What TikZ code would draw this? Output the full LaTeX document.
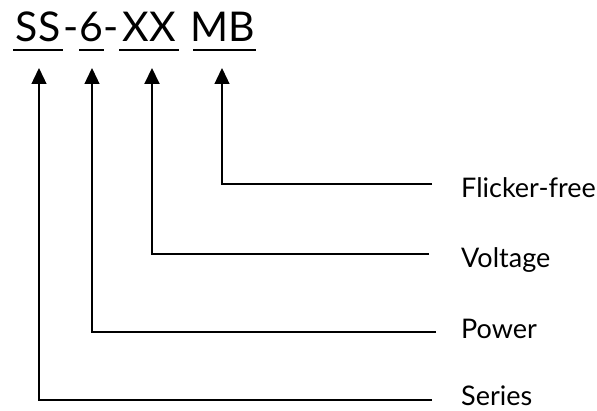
\documentclass[tikz,border=0pt]{standalone}
\usepackage{fontspec}
\setmainfont{Lato}
\usetikzlibrary{arrows.meta,calc}
\begin{document}
\begin{tikzpicture}[x=1pt,y=-1pt,
  title/.style={inner sep=0pt,anchor=base,font=\fontsize{41}{46}\selectfont},
  lbl/.style={inner sep=0pt,anchor=base west,font=\fontsize{27}{32}\selectfont},
  uline/.style={line width=1.4pt},
  conn/.style={line width=1.3pt,-{Triangle[width=15pt,length=16pt]}}]
\useasboundingbox (0,0) rectangle (597,411);
% title parts
\node[title] (ss) at (38,42) {SS};
\node[title] (d1) at (71,42) {-};
\node[title] (six) at (91.5,42) {6};
\node[title] (d2) at (111,42) {-};
\node[title] (xx) at (149,42) {XX};
\node[title] (mb) at (223,42) {MB};
% underlines
\draw[uline] (13,50) -- (63,50);
\draw[uline] (79,50) -- (104,50);
\draw[uline] (119,50) -- (179,50);
\draw[uline] (193,50) -- (256,50);
% arrow targets
\coordinate (t1) at (39,68);
\coordinate (t2) at (92,68);
\coordinate (t3) at (152,68);
\coordinate (t4) at (222,68);
% labels
\node[lbl] (l4) at (461,198) {Flicker-free};
\node[lbl] (l3) at (461,268) {Voltage};
\node[lbl] (l2) at (461,339) {Power};
\node[lbl] (l1) at (461,406) {Series};
% connector ends
\coordinate (c4) at (432,184);
\coordinate (c3) at (429,254);
\coordinate (c2) at (436,332);
\coordinate (c1) at (432,400);
\draw[conn] (c4) -| (t4);
\draw[conn,line width=2pt] (c3) -| (t3);
\draw[conn] (c2) -| (t2);
\draw[conn] (c1) -| (t1);
\end{tikzpicture}
\end{document}
